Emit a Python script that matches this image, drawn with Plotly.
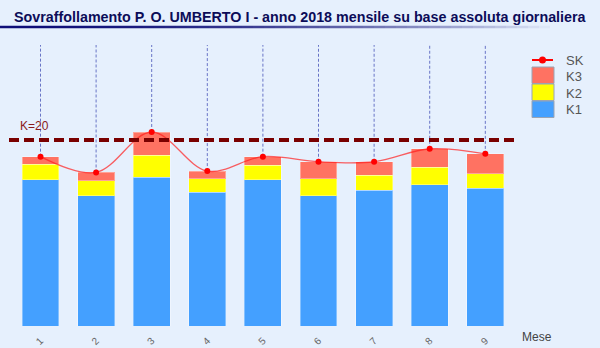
import plotly.graph_objects as go

# Monthly overcrowding data (P. O. Umberto I, 2018)
mesi = ["1", "2", "3", "4", "5", "6", "7", "8", "9"]
k1 = [15.7, 14.0, 16.0, 14.4, 15.7, 14.0, 14.6, 15.2, 14.8]
k2 = [1.7, 1.6, 2.35, 1.4, 1.6, 1.8, 1.6, 1.85, 1.55]
k3 = [0.8, 0.9, 2.5, 0.85, 0.9, 1.85, 1.45, 2.0, 2.15]
soglia_k = 20
serie_nomi = ["SK", "K3", "K2", "K1"]

sk = [round(a + b + c, 2) for a, b, c in zip(k1, k2, k3)]
x_pos = list(range(1, len(mesi) + 1))

Y_TOP = 30.2
BG = "#E6F0FD"
C_K1 = "#44A0FF"
C_K2 = "#FFFF00"
C_K3 = "#FF7262"
C_SK = "#FF0000"

fig = go.Figure()

for vals, col, name in [(k1, C_K1, "K1"), (k2, C_K2, "K2"), (k3, C_K3, "K3")]:
    fig.add_trace(go.Bar(
        x=x_pos, y=vals, name=name, width=0.665,
        marker=dict(color=col, line=dict(color="rgba(255,255,255,0.35)", width=1)),
        showlegend=False,
    ))

# drop lines from the top of the plot to each SK point
vx, vy = [], []
for xi, v in zip(x_pos, sk):
    vx += [xi, xi, None]
    vy += [v, Y_TOP, None]
fig.add_trace(go.Scatter(
    x=vx, y=vy, mode="lines",
    line=dict(color="#6874C6", width=1, dash="3px,2px"),
    showlegend=False, hoverinfo="skip",
))

fig.add_trace(go.Scatter(
    x=x_pos, y=sk, mode="lines+markers", name="SK",
    line=dict(color="rgba(255,30,30,0.7)", width=1.3, shape="spline", smoothing=1),
    marker=dict(color=C_SK, size=6),
    showlegend=False,
))

shapes = []
# threshold line
shapes.append(dict(type="line", xref="paper", yref="y", x0=0, x1=1,
                   y0=soglia_k, y1=soglia_k, layer="above",
                   line=dict(color="#7A0000", width=4, dash="10px,5px")))

# title underline with fading gradient (pixel -> paper helpers)
L, R, T, B = 9, 517, 45, 326


def px_x(p):
    return (p - L) / (R - L)


def px_y(p):
    return (B - p) / (B - T)


n_seg = 50
x0_ul, x1_ul = 0, 550
for i in range(n_seg):
    f = (i / n_seg) ** 2
    r = int(15 + (230 - 15) * f)
    g = int(15 + (240 - 15) * f)
    bcol = int(120 + (253 - 120) * f)
    a = x0_ul + (x1_ul - x0_ul) * i / n_seg
    b = x0_ul + (x1_ul - x0_ul) * (i + 1) / n_seg
    shapes.append(dict(type="line", xref="paper", yref="paper",
                       x0=px_x(a), x1=px_x(b), y0=px_y(27), y1=px_y(27),
                       line=dict(color=f"rgb({r},{g},{bcol})", width=2.5)))

# legend drawn by hand
leg_cols = {"K3": C_K3, "K2": C_K2, "K1": C_K1}
box_tops = {"K3": 67, "K2": 84, "K1": 101}
for nm in ["K3", "K2", "K1"]:
    t = box_tops[nm]
    shapes.append(dict(type="rect", xref="paper", yref="paper",
                       x0=px_x(532), x1=px_x(554), y0=px_y(t + 16.5), y1=px_y(t),
                       fillcolor=leg_cols[nm], line=dict(color="#9AA4B4", width=1)))
shapes.append(dict(type="line", xref="paper", yref="paper",
                   x0=px_x(532), x1=px_x(553), y0=px_y(60), y1=px_y(60),
                   line=dict(color=C_SK, width=2)))
shapes.append(dict(type="circle", xref="paper", yref="paper",
                   x0=px_x(539), x1=px_x(546), y0=px_y(63.5), y1=px_y(56.5),
                   fillcolor=C_SK, line=dict(color=C_SK, width=0)))

annotations = []
leg_y = {"SK": 60, "K3": 76, "K2": 93, "K1": 109}
for nm in serie_nomi:
    annotations.append(dict(xref="paper", yref="paper", x=px_x(564), y=px_y(leg_y[nm]),
                            text=nm, showarrow=False, xanchor="left", yanchor="middle",
                            font=dict(family="Liberation Sans", size=13, color="#555555")))

annotations.append(dict(xref="paper", yref="y", x=px_x(18), y=soglia_k + 1.5,
                        text=f"K={soglia_k}", showarrow=False, xanchor="left", yanchor="middle",
                        font=dict(family="Liberation Sans", size=12, color="#8B1A1A")))
annotations.append(dict(xref="paper", yref="paper", x=px_x(520), y=px_y(337),
                        text="Mese", showarrow=False, xanchor="left", yanchor="middle",
                        font=dict(family="Liberation Sans", size=12, color="#444444")))
annotations.append(dict(xref="paper", yref="paper", x=px_x(12), y=px_y(17),
                        text="<b>Sovraffollamento P. O. UMBERTO I - anno 2018 mensile su base assoluta giornaliera</b>",
                        showarrow=False, xanchor="left", yanchor="middle",
                        font=dict(family="Liberation Sans", size=14.3, color="#0C0C58")))

fig.update_layout(
    width=600, height=348,
    margin=dict(l=L, r=600 - R, t=T, b=348 - B),
    paper_bgcolor=BG, plot_bgcolor=BG,
    barmode="stack", bargap=0.3,
    showlegend=False,
    shapes=shapes, annotations=annotations,
    xaxis=dict(range=[0.4335, 9.57], tickmode="array", tickvals=x_pos, ticktext=mesi,
               tickangle=-45, showgrid=False, zeroline=False, showline=False,
               ticks="", ticklabelstandoff=6, automargin=False,
               tickfont=dict(family="Liberation Sans", size=10, color="#666666")),
    yaxis=dict(range=[0, Y_TOP], showgrid=False, zeroline=False, showline=False,
               showticklabels=False, ticks="", automargin=False),
)

fig.write_html("out.html")
